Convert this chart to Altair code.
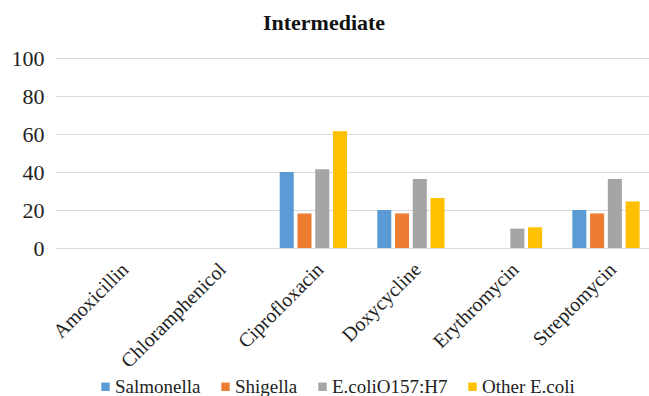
import altair as alt
import pandas as pd

antibiotics = ["Amoxicillin", "Chloramphenicol", "Ciprofloxacin",
               "Doxycycline", "Erythromycin", "Streptomycin"]
organisms = ["Salmonella", "Shigella", "E.coliO157:H7", "Other E.coli"]
colors = ["#5B9BD5", "#ED7D31", "#A5A5A5", "#FFC000"]

salmonella = [0, 0, 40, 20, 0, 20]
shigella = [0, 0, 18.2, 18.2, 0, 18.2]
ecoli_o157 = [0, 0, 41.4, 36.3, 10.2, 36.3]
other_ecoli = [0, 0, 61.4, 26.3, 10.9, 24.5]

series = {
    "Salmonella": salmonella,
    "Shigella": shigella,
    "E.coliO157:H7": ecoli_o157,
    "Other E.coli": other_ecoli,
}
rows = []
for org, vals in series.items():
    for ab, v in zip(antibiotics, vals):
        rows.append({"Antibiotic": ab, "Organism": org, "Percent": v})
df = pd.DataFrame(rows)

serif = "Liberation Serif, Times New Roman, serif"

chart = alt.Chart(df).mark_bar().encode(
    x=alt.X("Antibiotic:N", sort=antibiotics, title=None,
            scale=alt.Scale(paddingInner=0.31, paddingOuter=0.2, align=0.76),
            axis=alt.Axis(labelAngle=-45, labelFont=serif, labelFontSize=20,
                          labelColor="#222", ticks=False, domain=False,
                          labelPadding=11, grid=False)),
    xOffset=alt.XOffset("Organism:N", sort=organisms,
                        scale=alt.Scale(paddingInner=0.21, paddingOuter=0)),
    y=alt.Y("Percent:Q", title=None,
            scale=alt.Scale(domain=[0, 100], nice=False),
            axis=alt.Axis(values=[0, 20, 40, 60, 80, 100], labelFont=serif,
                          labelFontSize=22, labelColor="#222", ticks=False,
                          domain=False, labelPadding=11, gridColor="#d9d9d9",
                          gridWidth=1)),
    color=alt.Color("Organism:N", sort=organisms,
                    scale=alt.Scale(domain=organisms, range=colors),
                    legend=alt.Legend(title=None, orient="none", direction="horizontal",
                                      legendX=41, legendY=319, symbolType="square",
                                      symbolSize=70, symbolStrokeWidth=0,
                                      labelFont=serif, labelFontSize=19,
                                      labelColor="#222", labelLimit=300,
                                      columnPadding=15, labelOffset=0)),
).properties(
    width=594,
    height=190,
    title=alt.TitleParams("Intermediate", font=serif, fontSize=22,
                          fontWeight="bold", color="#111", dx=-28, offset=12),
    autosize=alt.AutoSizeParams(type="none"),
    padding={"left": 55, "top": 58, "right": 0, "bottom": 148},
).configure(font=serif).configure_view(stroke=None)

chart.save("out.html", embed_options={"renderer": "svg", "actions": False})
